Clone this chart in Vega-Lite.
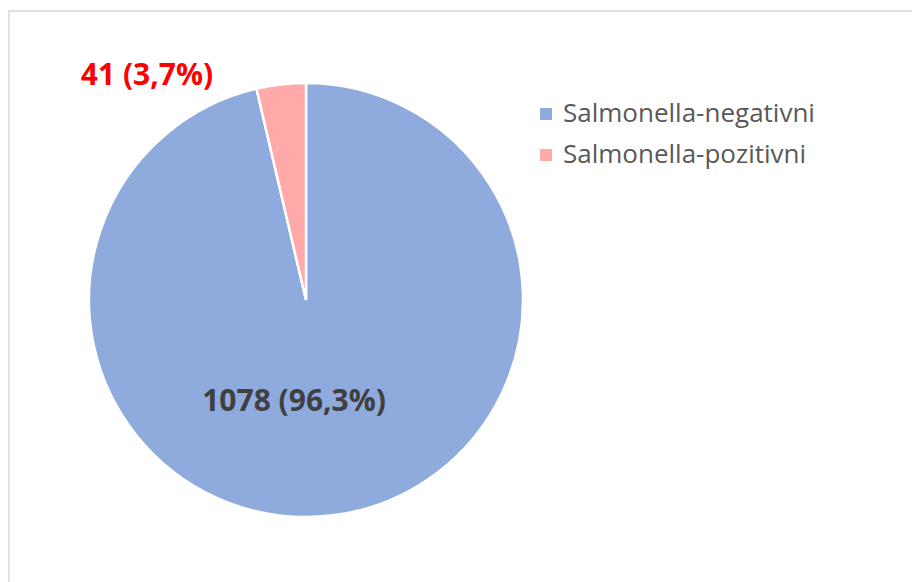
{
  "$schema": "https://vega.github.io/schema/vega-lite/v6.json",
  "autosize": {"type": "none"},
  "width": 910,
  "height": 580,
  "padding": {"left": 9, "top": 11, "right": 0, "bottom": 0},
  "background": "white",
  "view": {"stroke": "#D9D9D9", "strokeWidth": 1.5, "fill": "white"},
  "config": {
    "font": "Open Sans"
  },
  "data": {
    "values": [
      {"group": "Salmonella-negativni", "count": 1078, "label": "1078 (96,3%)"},
      {"group": "Salmonella-pozitivni", "count": 41, "label": "41 (3,7%)"}
    ]
  },
  "encoding": {
    "theta": {"field": "count", "type": "quantitative", "stack": true},
    "color": {
      "field": "group",
      "type": "nominal",
      "scale": {"domain": ["Salmonella-negativni", "Salmonella-pozitivni"], "range": ["#8FAADC", "#FFA9A9"]},
      "legend": {
        "title": null,
        "orient": "none",
        "legendX": 524,
        "legendY": 90,
        "symbolType": "square",
        "symbolSize": 144,
        "symbolStrokeWidth": 0,
        "labelFont": "Open Sans",
        "labelFontSize": 26,
        "labelColor": "#595959",
        "labelOffset": 4,
        "labelLimit": 0,
        "rowPadding": 15,
        "padding": 0
      }
    }
  },
  "layer": [
    {
      "mark": {"type": "arc", "x": 297, "y": 289, "outerRadius": 217, "stroke": "white", "strokeWidth": 2.5}
    },
    {
      "mark": {"type": "text", "x": 297, "y": 289, "radius": 105, "dx": -24, "dy": -2, "fontSize": 30, "fontWeight": "bold", "font": "Open Sans"},
      "encoding": {
        "theta": {"field": "count", "type": "quantitative", "stack": true},
        "text": {"condition": {"test": "datum.group === 'Salmonella-negativni'", "field": "label"}, "value": ""},
        "color": {"value": "#404040"}
      }
    },
    {
      "mark": {"type": "text", "x": 297, "y": 289, "radius": 235, "dx": -132, "dy": 9, "fontSize": 30, "fontWeight": "bold", "font": "Open Sans"},
      "encoding": {
        "theta": {"field": "count", "type": "quantitative", "stack": true},
        "text": {"condition": {"test": "datum.group === 'Salmonella-pozitivni'", "field": "label"}, "value": ""},
        "color": {"value": "#FF0000"}
      }
    }
  ]
}
